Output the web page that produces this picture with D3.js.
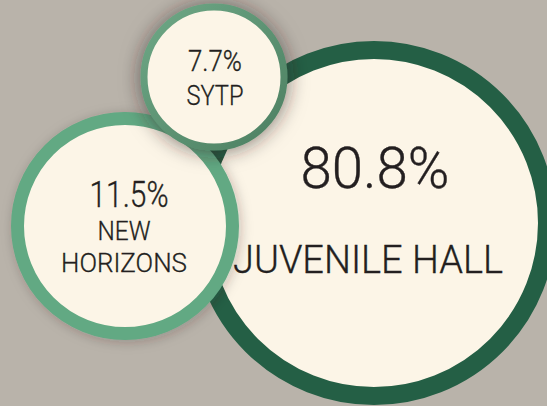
<!DOCTYPE html>
<html>
<head>
<meta charset="utf-8">
<script src="https://cdn.jsdelivr.net/npm/d3@7/dist/d3.min.js"></script>
<style>
  html, body { margin: 0; padding: 0; background: #b9b3aa; }
  svg { display: block; }
</style>
</head>
<body>
<script>
// ---- data ----
const categories = ["JUVENILE HALL", "NEW HORIZONS", "SYTP"];
const values = [80.8, 11.5, 7.7];
const labelLines = [["JUVENILE HALL"], ["NEW", "HORIZONS"], ["SYTP"]];

// ---- layout / style (not data) ----
const W = 547, H = 406;
const centers = [[374, 223], [125, 226], [214, 77]];
const ringColors = ["#245f45", "#62a983", "url(#sytpGrad)"];
const ringWidths = [18, 13, 7];
const drawOrder = [0, 1, 2];

// piecewise radius scale (outer radius of each bubble)
const rScale = d3.scaleLinear().domain([7.7, 11.5, 80.8]).range([73.5, 114, 182]);

// text styling per bubble
const pctStyle = [
  { size: 58, dy: -35, len: 149, dx: 1 },
  { size: 36, dy: -19, len: 79, dx: 4 },
  { size: 29, dy: -6, len: 54, dx: 1 }
];
const lblStyle = [
  { size: 38, dy: [50], len: [270], dx: -6 },
  { size: 26, dy: [14, 45.5], len: [53, 126], dx: -1 },
  { size: 28, dy: [28], len: [57], dx: 1 }
];

const svg = d3.select("body").append("svg").attr("width", W).attr("height", H);
svg.append("rect").attr("width", W).attr("height", H).attr("fill", "#b9b3aa");

const defs = svg.append("defs");
const g1 = defs.append("linearGradient").attr("id", "sytpGrad")
  .attr("x1", "0%").attr("y1", "0%").attr("x2", "100%").attr("y2", "100%");
g1.append("stop").attr("offset", "0%").attr("stop-color", "#6ea886");
g1.append("stop").attr("offset", "100%").attr("stop-color", "#4c7f61");

const f1 = defs.append("filter").attr("id", "shadowBig")
  .attr("x", "-50%").attr("y", "-50%").attr("width", "200%").attr("height", "200%");
f1.append("feDropShadow").attr("dx", 0).attr("dy", 1).attr("stdDeviation", 10)
  .attr("flood-color", "#2a2420").attr("flood-opacity", 0.6);
const f2 = defs.append("filter").attr("id", "shadowSmall")
  .attr("x", "-40%").attr("y", "-40%").attr("width", "180%").attr("height", "180%");
f2.append("feDropShadow").attr("dx", 2).attr("dy", 2).attr("stdDeviation", 6)
  .attr("flood-color", "#2a2420").attr("flood-opacity", 0.25);

const filters = [null, "url(#shadowSmall)", "url(#shadowBig)"];

const font = "Roboto, 'Liberation Sans', Arial, sans-serif";

drawOrder.forEach(i => {
  const [cx, cy] = centers[i];
  const rOuter = rScale(values[i]);
  const sw = ringWidths[i];
  const g = svg.append("g").attr("class", "bubble");
  g.append("circle")
    .attr("cx", cx).attr("cy", cy)
    .attr("r", rOuter - sw / 2)
    .attr("fill", "#fcf5e7")
    .attr("stroke", ringColors[i])
    .attr("stroke-width", sw)
    .attr("filter", filters[i]);

  const ps = pctStyle[i];
  g.append("text")
    .attr("x", cx + ps.dx).attr("y", cy + ps.dy)
    .attr("text-anchor", "middle")
    .attr("font-family", font).attr("font-weight", 300)
    .attr("font-size", ps.size)
    .attr("fill", "#231f20")
    .attr("stroke", "#231f20").attr("stroke-width", 0.35)
    .attr("textLength", ps.len).attr("lengthAdjust", "spacingAndGlyphs")
    .text(d3.format(".1f")(values[i]) + "%");

  const ls = lblStyle[i];
  labelLines[i].forEach((line, k) => {
    g.append("text")
      .attr("x", cx + ls.dx).attr("y", cy + ls.dy[k])
      .attr("text-anchor", "middle")
      .attr("font-family", font).attr("font-weight", 300)
      .attr("font-size", ls.size)
      .attr("fill", "#231f20")
      .attr("stroke", "#231f20").attr("stroke-width", 0.3)
      .attr("textLength", ls.len[k]).attr("lengthAdjust", "spacingAndGlyphs")
      .text(line);
  });
});
</script>
</body>
</html>
